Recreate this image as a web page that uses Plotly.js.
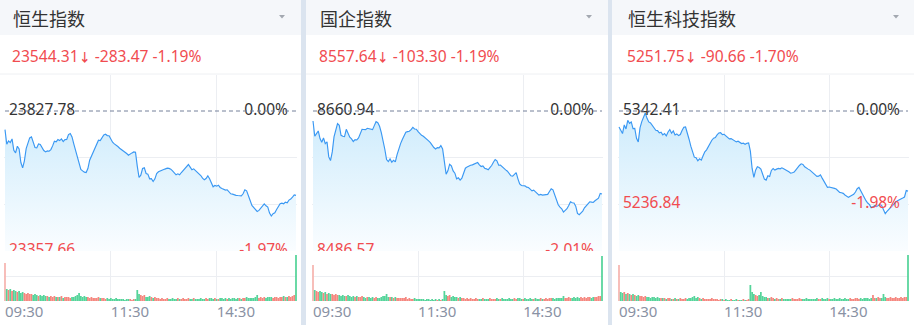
<!DOCTYPE html>
<html>
<head>
<meta charset="utf-8">
<script src="https://cdn.plot.ly/plotly-3.0.1.min.js"></script>
<style>
  html, body { margin: 0; padding: 0; background: #fff; }
  #chart { width: 914px; height: 325px; }
</style>
</head>
<body>
<div id="chart"></div>
<script>
// ---- Intraday data: 2-minute samples over the trading session (lunch break removed) ----
const sessionMinutes = [
  0,2,4,6,8,10,12,14,16,18,20,22,24,26,28,30,32,34,36,38,
  40,42,44,46,48,50,52,54,56,58,60,62,64,66,68,70,72,74,76,78,
  80,82,84,86,88,90,92,94,96,98,100,102,104,106,108,110,112,114,116,118,
  120,122,124,126,128,130,132,134,136,138,140,142,144,146,148,150,152,154,156,158,
  160,162,164,166,168,170,172,174,176,178,180,182,184,186,188,190,192,194,196,198,
  200,202,204,206,208,210,212,214,216,218,220,222,224,226,228,230,232,234,236,238,
  240,242,244,246,248,250,252,254,256,258,260,262,264,266,268,270,272,274,276,278,
  280,282,284,286,288,290,292,294,296,298,300,302,304,306,308,310,312,314,316,318,
  320,322,324,326,328,330
];
const tickMinutes = [0, 120, 240, 330];
const tickLabels = ['09:30', '11:30', '14:30', ''];

const indexNames = ['恒生指数', '国企指数', '恒生科技指数'];
const prevClose = [23827.78, 8660.94, 5342.41];
const lastPrice = [23544.31, 8557.64, 5251.75];
const lowLabel = [23357.66, 8486.57, 5236.84];
const axisMin = [23357.66, 8486.57, 5184.06];

const hsiPrice = [
  23765.34,23716.20,23727.36,23721.78,23734.07,23696.09,23687.16,23709.49,23700.56,23654.76,
  23636.89,23660.35,23701.68,23722.90,23737.42,23740.77,23722.90,23705.03,23703.91,23717.31,
  23715.08,23705.03,23694.97,23690.51,23693.86,23692.74,23698.32,23710.61,23726.25,23724.01,
  23731.83,23728.48,23734.07,23725.13,23731.83,23732.40,23748.59,23751.94,23740.77,23717.31,
  23693.86,23670.40,23651.41,23631.31,23626.84,23622.37,23621.26,23634.66,23662.58,23677.10,
  23689.39,23701.68,23718.43,23729.60,23728.48,23737.42,23747.47,23749.70,23745.24,23744.60,
  23732.95,23722.90,23717.31,23713.96,23708.38,23702.79,23698.32,23696.09,23690.51,23684.92,
  23679.34,23684.92,23687.16,23690.51,23689.39,23642.48,23604.50,23612.32,23634.66,23636.89,
  23617.91,23615.67,23600.03,23600.85,23591.10,23600.03,23617.91,23623.49,23626.84,23629.07,
  23631.31,23633.54,23635.78,23635.10,23632.43,23626.84,23619.02,23613.44,23616.79,23613.44,
  23621.26,23627.96,23634.66,23642.48,23648.06,23639.13,23630.19,23633.54,23627.96,23622.37,
  23617.91,23611.20,23602.27,23596.68,23601.15,23610.09,23600.03,23586.63,23573.23,23577.70,
  23575.46,23578.81,23570.99,23567.64,23564.29,23562.06,23563.18,23556.47,23549.77,23548.66,
  23545.30,23544.62,23543.85,23544.40,23543.07,23549.77,23563.18,23559.83,23539.72,23527.43,
  23510.68,23505.10,23498.39,23490.58,23493.93,23502.86,23511.80,23516.26,23509.56,23505.10,
  23484.99,23474.94,23482.76,23486.11,23497.28,23506.21,23516.26,23518.50,23516.26,23521.85,
  23519.62,23528.55,23531.90,23538.60,23546.10,23544.31
];
const hsceiPrice = [
  8648.51,8629.46,8632.77,8636.09,8626.56,8622.00,8627.39,8620.35,8622.42,8603.78,
  8599.22,8609.99,8628.63,8638.57,8645.20,8643.13,8630.70,8629.46,8629.10,8638.16,
  8631.94,8628.22,8626.15,8622.83,8625.32,8624.90,8627.39,8632.77,8638.16,8637.90,
  8637.74,8639.40,8638.98,8638.57,8637.74,8642.71,8647.68,8646.44,8641.88,8634.01,
  8625.32,8613.31,8600.47,8597.98,8601.29,8597.15,8599.64,8597.57,8606.68,8615.38,
  8620.35,8625.32,8631.12,8634.43,8635.26,8635.67,8637.74,8640.64,8638.57,8638.20,
  8635.26,8632.77,8630.70,8629.46,8627.80,8625.32,8623.66,8621.59,8617.86,8615.38,
  8613.72,8615.38,8614.96,8617.86,8613.72,8595.50,8582.24,8586.38,8594.67,8592.60,
  8586.38,8583.48,8576.44,8577.69,8574.79,8577.27,8583.48,8589.70,8591.35,8592.60,
  8593.42,8593.84,8595.08,8596.32,8596.74,8593.84,8591.77,8592.60,8589.70,8588.87,
  8587.63,8590.53,8593.01,8597.15,8600.47,8598.81,8593.42,8593.60,8591.35,8589.28,
  8587.63,8585.97,8583.07,8580.17,8579.76,8582.66,8584.31,8576.44,8570.23,8568.16,
  8568.40,8567.75,8566.09,8565.67,8563.60,8561.53,8562.36,8560.29,8557.39,8556.15,
  8556.98,8556.15,8556.56,8556.98,8557.10,8560.70,8564.02,8562.78,8555.73,8549.52,
  8544.14,8541.24,8539.17,8535.03,8537.10,8539.17,8543.31,8547.87,8546.62,8546.30,
  8542.48,8533.37,8531.71,8533.78,8536.27,8540.41,8542.48,8545.38,8547.87,8547.50,
  8547.04,8549.11,8550.35,8552.42,8558.30,8557.64
];
const hstechPrice = [
  5324.38,5319.87,5316.86,5326.63,5322.12,5331.89,5328.51,5330.01,5322.50,5322.80,
  5311.60,5307.47,5323.25,5330.39,5336.40,5340.16,5334.14,5330.01,5328.89,5326.25,
  5324.00,5320.62,5320.24,5317.61,5318.37,5315.36,5316.86,5314.23,5318.74,5321.37,
  5317.24,5319.87,5315.36,5316.49,5314.61,5315.74,5320.24,5324.00,5324.30,5318.37,
  5310.48,5302.59,5295.82,5290.19,5289.44,5286.06,5288.31,5286.81,5291.69,5296.20,
  5298.45,5302.59,5306.34,5309.35,5311.60,5312.35,5315.36,5317.61,5317.99,5315.74,
  5316.11,5314.23,5312.35,5310.85,5311.23,5309.72,5308.60,5307.47,5308.22,5306.72,
  5305.59,5305.97,5304.84,5305.97,5306.34,5296.95,5277.42,5267.27,5275.54,5279.29,
  5278.54,5276.66,5271.40,5265.39,5264.27,5269.15,5268.40,5275.16,5277.42,5275.54,
  5276.66,5277.42,5277.04,5278.17,5277.04,5276.29,5274.79,5273.66,5272.16,5272.53,
  5273.28,5275.91,5278.92,5280.80,5282.67,5281.92,5279.29,5277.42,5276.66,5275.54,
  5273.66,5272.53,5270.28,5268.40,5268.70,5270.28,5266.52,5263.51,5259.76,5256.00,
  5256.38,5256.10,5255.25,5254.87,5254.12,5252.24,5250.37,5249.99,5249.24,5247.36,
  5245.48,5244.73,5245.86,5247.36,5248.11,5250.74,5254.50,5256.00,5251.87,5247.74,
  5244.73,5240.97,5238.34,5236.46,5233.08,5233.84,5235.34,5234.21,5236.09,5236.84,
  5235.34,5229.70,5226.32,5228.95,5231.21,5233.08,5235.34,5237.97,5239.47,5240.97,
  5241.72,5242.85,5243.98,5245.11,5252.40,5251.75
];

// turnover per 2-minute bucket (the first bucket is the opening auction, the last the closing auction)
const hsiVolume = [
  76, 24,22,24,20,22, 20,18,20,16,18, 16,14,16,14,14, 12,14,12,10,12, 10,12,10,10,8,
  10,8,10,8,8, 8,10,6,8,8, 8,6,8,8,10, 12,16,10,8,10, 8,8,6,8,6, 6,6,8,6,6,
  6,4,6,4,6, 4,4,6,4,4, 4,4,2,4,4, 4,2,4,4, 22,
  14,12,10,12,8, 8,10,8,6,8, 6,6,4,6,4, 4,6,4,4,6, 4,4,6,4,4, 6,4,4,6,4,
  4,6,4,4,4, 6,4,4,6,4, 6,6,4,6,4, 4,6,6,4,6, 4,6,4,6,6, 4,6,6,4,6,
  6,8,6,6,6, 6,8,12,6,8, 6,8,6,8,8, 8,6,8,8,6, 8,8,10,8,8, 10,8,10,12, 92
];
const hsceiVolume = [
  72, 22,20,18,20,18, 16,18,14,16,14, 14,12,14,12,12, 10,12,10,10,12, 10,8,10,8,10,
  8,8,10,8,6, 8,8,6,8,6, 8,6,6,8,10, 10,14,8,8,8, 6,8,6,6,6, 6,6,8,4,6,
  4,4,6,4,4, 4,4,4,2,4, 4,2,4,2,4, 2,4,2,4, 20,
  12,10,12,8,10, 8,8,6,8,6, 6,4,6,4,6, 4,4,6,4,4, 4,6,4,4,4, 6,4,4,4,6,
  4,4,6,4,4, 4,6,4,4,6, 4,6,6,4,4, 6,4,4,6,4, 4,6,4,4,6, 4,4,6,4,6,
  6,6,4,6,6, 6,6,10,6,6, 8,6,6,8,6, 8,6,8,6,8, 6,8,8,6,8, 8,8,10,10, 90
];
const hstechVolume = [
  72, 18,16,18,14,16, 14,12,14,12,10, 12,10,10,8,10, 8,8,6,8,8, 6,8,6,6,6,
  6,4,6,6,4, 4,6,4,4,6, 4,4,6,4,6, 6,8,10,6,8, 6,4,6,4,4, 4,4,6,4,4,
  4,2,4,4,2, 4,2,2,4,2, 2,4,2,2,2, 4,2,2,4, 32,
  18,14,12,10,12, 18,10,8,8,6, 6,8,6,4,6, 4,4,6,4,4, 4,4,4,6,4, 4,4,6,4,4,
  4,6,4,4,4, 4,4,6,4,4, 6,4,4,6,4, 4,4,6,4,4, 6,4,4,6,4, 4,6,4,4,6,
  6,4,6,4,6, 6,6,4,6,12, 6,6,8,6,6, 14,8,6,6,8, 6,6,8,6,6, 8,6,8,8, 92
];
const VOLUME_AXIS_MAX = 100;

const prices = [hsiPrice, hsceiPrice, hstechPrice];
const volumes = [hsiVolume, hsceiVolume, hstechVolume];

// ---- Page geometry (pixels of the 914 x 325 canvas) ----
const W = 914, H = 325;
const fx = x => x / W;
const fy = y => 1 - y / H;
const HEADER_BOTTOM = 35, QUOTE_Y = 56, DIVIDER_Y = 74;
const PRICE_TOP = 75, PREV_Y = 111, PRICE_BOTTOM = 251, VOL_BOTTOM = 301;
const SESSION_END = 330, EDGE_PAD = 1;   // one extra minute each side so edge bars are not cut
const frames = [
  {left: 0,   right: 301, plotL: 5,   plotR: 296, textX: 12,  caretX: 282},
  {left: 306, right: 608, plotL: 313, plotR: 602, textX: 319, caretX: 589},
  {left: 612, right: 914, plotL: 619, plotR: 908, textX: 627, caretX: 896}
];
const separators = [[301, 306], [608, 612]];

const FONT = '"Noto Sans", "Noto Sans CJK SC", sans-serif';
const RED = '#f14c50';
const DARK = '#333333';
const GRID = '#eceef2';
const LINE_BLUE = '#3a98f3';
const BAR_UP = '#f5877f', BAR_DOWN = '#55d49a', BAR_OPEN = '#f6b5b0';

const axisName = (p, n) => (n === 1 ? p : p + n);
const layoutKey = (p, n) => (n === 1 ? p + 'axis' : p + 'axis' + n);

const traces = [];
const shapes = [];
const annotations = [];
const layout = {
  width: W, height: H,
  margin: {l: 0, r: 0, t: 0, b: 0},
  paper_bgcolor: '#ffffff', plot_bgcolor: 'rgba(0,0,0,0)',
  showlegend: false, hovermode: false,
  font: {family: FONT, color: DARK},
  shapes, annotations
};

// panel chrome
frames.forEach(f => {
  shapes.push({type: 'rect', xref: 'paper', yref: 'paper', layer: 'below',
    x0: fx(f.left), x1: fx(f.right), y0: fy(HEADER_BOTTOM), y1: fy(0),
    fillcolor: '#f5f7fa', line: {width: 0}});
  shapes.push({type: 'line', xref: 'paper', yref: 'paper', layer: 'below',
    x0: fx(f.left), x1: fx(f.right), y0: fy(DIVIDER_Y), y1: fy(DIVIDER_Y),
    line: {color: '#eef0f3', width: 1}});
  const c = f.caretX;
  shapes.push({type: 'path', xref: 'paper', yref: 'paper', layer: 'above',
    path: `M ${fx(c - 3)} ${fy(15)} L ${fx(c + 3)} ${fy(15)} L ${fx(c)} ${fy(18.5)} Z`,
    fillcolor: '#a3a8b0', line: {width: 0}});
});
separators.forEach(([a, b]) => {
  shapes.push({type: 'rect', xref: 'paper', yref: 'paper', layer: 'above',
    x0: fx(a), x1: fx(b), y0: 0, y1: 1, fillcolor: '#dbe4ef', line: {width: 0}});
});

frames.forEach((f, i) => {
  const xn = i + 1, yp = 2 * i + 1, yv = 2 * i + 2;
  const xa = axisName('x', xn), ypa = axisName('y', yp), yva = axisName('y', yv);
  const prev = prevClose[i], lo = axisMin[i], last = lastPrice[i];
  const step = (lo - prev) / 3;
  const hi = prev + (prev - lo) * (PREV_Y - PRICE_TOP) / (PRICE_BOTTOM - PREV_Y);
  const series = prices[i];
  const pxPerMin = (f.plotR - f.plotL) / SESSION_END;
  const mpp = 1 / pxPerMin;

  layout[layoutKey('x', xn)] = {
    domain: [fx(f.plotL - EDGE_PAD * pxPerMin), fx(f.plotR + EDGE_PAD * pxPerMin)],
    range: [-EDGE_PAD, SESSION_END + EDGE_PAD], anchor: yva,
    tickmode: 'array', tickvals: tickMinutes, ticktext: tickLabels,
    ticklabelposition: 'outside right',
    showgrid: true, gridcolor: GRID, gridwidth: 1, zeroline: false, showline: false,
    ticks: '', tickfont: {family: FONT, size: 15, color: '#8a92a4'}, fixedrange: true
  };
  layout[layoutKey('y', yp)] = {
    domain: [fy(PRICE_BOTTOM), fy(PRICE_TOP)], range: [lo, hi], anchor: xa,
    tickmode: 'array', tickvals: [prev + step, prev + 2 * step, lo],
    showticklabels: false, showgrid: true, gridcolor: GRID, zeroline: false,
    showline: false, ticks: '', fixedrange: true
  };
  layout[layoutKey('y', yv)] = {
    domain: [fy(VOL_BOTTOM), fy(PRICE_BOTTOM)], range: [0, VOLUME_AXIS_MAX], anchor: xa,
    tickmode: 'array', tickvals: [VOLUME_AXIS_MAX / 2, VOLUME_AXIS_MAX],
    showticklabels: false, showgrid: true, gridcolor: GRID, zeroline: false,
    showline: false, ticks: '', fixedrange: true
  };

  // baseline for the area fill
  traces.push({type: 'scatter', x: [0, SESSION_END], y: [lo, lo], mode: 'lines',
    line: {width: 0, color: 'rgba(0,0,0,0)'}, xaxis: xa, yaxis: ypa, hoverinfo: 'skip'});
  // intraday price line with gradient area
  traces.push({type: 'scatter', x: sessionMinutes, y: series, mode: 'lines',
    line: {color: LINE_BLUE, width: 1.15}, fill: 'tonexty',
    fillcolor: 'rgba(214,239,252,0.8)',
    fillgradient: {type: 'vertical', start: lo, stop: prev,
      colorscale: [[0, 'rgba(250,253,255,1)'], [1, 'rgba(205,235,252,1)']]},
    xaxis: xa, yaxis: ypa});
  // turnover bars, coloured by the move of the bucket
  const vcolors = series.map((p, j) => j === 0 ? BAR_OPEN : (p >= series[j - 1] ? BAR_UP : BAR_DOWN));
  traces.push({type: 'bar', x: sessionMinutes, y: volumes[i], width: 2,
    marker: {color: vcolors, line: {width: 0}}, xaxis: xa, yaxis: yva});

  // price / change labels on the chart
  const pctOf = v => ((v / prev - 1) * 100).toFixed(2) + '%';
  traces.push({type: 'scatter', mode: 'text', cliponaxis: true,
    x: [4 * mpp, SESSION_END - 8 * mpp, 4 * mpp, SESSION_END - 8 * mpp],
    y: [prev, prev, lowLabel[i], lowLabel[i]],
    text: [prev.toFixed(2), pctOf(prev), lowLabel[i].toFixed(2), pctOf(lowLabel[i])],
    textposition: ['middle right', 'middle left', 'middle right', 'middle left'],
    textfont: {family: FONT, size: 15.5, color: [DARK, DARK, RED, RED]},
    xaxis: xa, yaxis: ypa});

  // previous-close reference line
  shapes.push({type: 'line', xref: xa, yref: ypa, layer: 'above',
    x0: 0, x1: SESSION_END, y0: prev, y1: prev,
    line: {color: '#74809a', width: 1, dash: '4px,3px'}});

  // header title and quote row
  annotations.push({xref: 'paper', yref: 'paper', x: fx(f.textX - 1), y: fy(18),
    xanchor: 'left', yanchor: 'middle', showarrow: false, text: indexNames[i],
    font: {family: '"Noto Sans CJK SC", sans-serif', size: 18, color: DARK}});
  const change = last - prev;
  annotations.push({xref: 'paper', yref: 'paper', x: fx(f.textX - 2), y: fy(QUOTE_Y),
    xanchor: 'left', yanchor: 'middle', showarrow: false,
    text: `${last.toFixed(2)}<span style="font-size:12px"><b>↓</b></span> ${change.toFixed(2)} ${pctOf(last)}`,
    font: {family: FONT, size: 15.6, color: RED}});
});

Plotly.newPlot('chart', traces, layout, {staticPlot: true, displayModeBar: false});
</script>
</body>
</html>
